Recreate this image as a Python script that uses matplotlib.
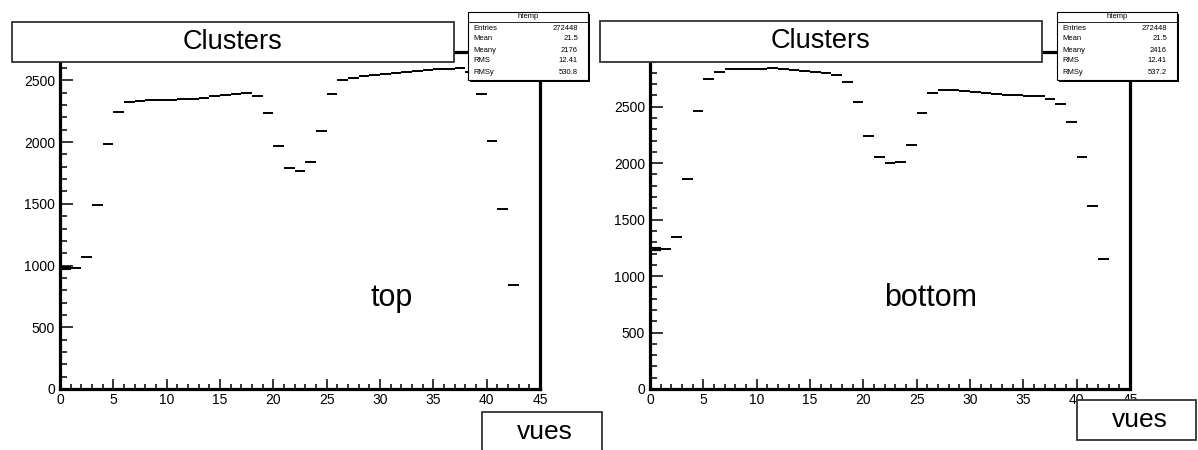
import numpy as np
import matplotlib
matplotlib.use("Agg")
import matplotlib.pyplot as plt
from matplotlib.patches import Rectangle
from matplotlib.ticker import MultipleLocator

plt.rcParams['font.family'] = ['Liberation Sans', 'DejaVu Sans']

# ---------------------------------------------------------------------------
# data: mean clusters per "vue" (bins of width 1, 0..43)
# ---------------------------------------------------------------------------
vues = list(range(43))

clusters_top = [978, 981, 1073, 1492, 1984, 2245, 2323, 2336, 2339, 2339,
                2340, 2347, 2352, 2360, 2371, 2382, 2390, 2395, 2371, 2237,
                1965, 1793, 1769, 1840, 2090, 2387, 2500, 2521, 2532, 2542,
                2551, 2559, 2567, 2575, 2583, 2590, 2596, 2600, 2565, 2392,
                2012, 1457, 843]

clusters_bottom = [1244, 1241, 1344, 1862, 2462, 2744, 2809, 2832, 2838, 2838,
                   2832, 2844, 2832, 2826, 2818, 2809, 2800, 2779, 2721, 2538,
                   2241, 2056, 2006, 2011, 2161, 2444, 2621, 2650, 2644, 2636,
                   2627, 2618, 2612, 2606, 2600, 2597, 2594, 2572, 2521, 2367,
                   2055, 1621, 1150]

stat_names = ["Entries", "Mean", "Meany", "RMS", "RMSy"]
stats_top = ["272448", "21.5", "2176", "12.41", "530.8"]
stats_bottom = ["272448", "21.5", "2416", "12.41", "537.2"]

W, H = 1198, 450
fig = plt.figure(figsize=(W / 100, H / 100), dpi=100)


def fx(px):
    return px / W


def fy(py):
    return 1 - py / H


def box(x0, y0, x1, y1, lw=1.0, ec="#333333", shadow=0, z=10):
    # ROOT-style pave, given in image pixels (top-left origin)
    if shadow:
        fig.patches.append(Rectangle((fx(x0 + shadow), fy(y1 + shadow)),
                                     (x1 - x0) / W, (y1 - y0) / H,
                                     transform=fig.transFigure, facecolor="black",
                                     edgecolor="none", zorder=z))
    fig.patches.append(Rectangle((fx(x0), fy(y1)), (x1 - x0) / W, (y1 - y0) / H,
                                 transform=fig.transFigure, facecolor="white",
                                 edgecolor=ec, lw=lw, zorder=z + 0.1))


def panel(x_left, values, ymax, label, label_x):
    ax = fig.add_axes([fx(x_left), fy(389), 480 / W, (389 - 52) / H])
    lws = [3.0] + [1.4] * (len(values) - 1)
    ax.hlines(values, vues, [v + 1 for v in vues], colors="black", linewidths=lws)
    ax.set_xlim(0, 45)
    ax.set_ylim(0, ymax)
    ax.xaxis.set_major_locator(MultipleLocator(5))
    ax.xaxis.set_minor_locator(MultipleLocator(1))
    ax.yaxis.set_major_locator(MultipleLocator(500))
    ax.yaxis.set_minor_locator(MultipleLocator(100))
    ax.tick_params(axis="x", which="major", direction="in", length=7.5, width=1.1,
                   labelsize=10, pad=3)
    ax.tick_params(axis="x", which="minor", direction="in", length=3.8, width=1.1)
    ax.tick_params(axis="y", which="major", direction="in", length=9.5, width=1.1,
                   labelsize=10, pad=3.5)
    ax.tick_params(axis="y", which="minor", direction="in", length=5, width=1.1)
    for s in ax.spines.values():
        s.set_linewidth(2.3)
    ax.text(label_x, 0.246, label, transform=ax.transAxes, fontsize=22,
            ha="center", va="baseline")
    return ax


panel(60, clusters_top, 2730, "top", 0.69)
panel(650, clusters_bottom, 2985, "bottom", 0.585)

# title paves
for x0, x1, y0, y1 in [(12, 454, 22, 62), (600, 1042, 21, 62)]:
    box(x0, y0, x1, y1, lw=1.3)
    fig.text(fx((x0 + x1) / 2), fy((y0 + y1) / 2), "Clusters", fontsize=19.5,
             ha="center", va="center", zorder=12)

# axis-title paves
for x0, x1, y0, y1 in [(482, 602, 412, 452), (1077, 1196, 400, 440)]:
    box(x0, y0, x1, y1, lw=1.3)
    fig.text(fx((x0 + x1) / 2 + 3), fy((y0 + y1) / 2), "vues", fontsize=19,
             ha="center", va="center", zorder=12)

# stats boxes
for x0, vals in [(468, stats_top), (1057, stats_bottom)]:
    x1 = x0 + 120
    box(x0, 12, x1, 80, lw=0.8, ec="black", shadow=2)
    fig.lines.append(plt.Line2D([fx(x0), fx(x1)], [fy(22), fy(22)],
                                transform=fig.transFigure, color="black",
                                lw=0.6, zorder=12))
    fig.text(fx((x0 + x1) / 2), fy(17), "htemp", fontsize=5.5, ha="center",
             va="center", zorder=12)
    for i, (name, v) in enumerate(zip(stat_names, vals)):
        yy = fy(28 + 11 * i)
        fig.text(fx(x0 + 5), yy, name, fontsize=5.5, ha="left", va="center",
                 zorder=12)
        fig.text(fx(x1 - 10), yy, v, fontsize=5.5, ha="right", va="center",
                 zorder=12)

fig.savefig("out.png", dpi=100)
